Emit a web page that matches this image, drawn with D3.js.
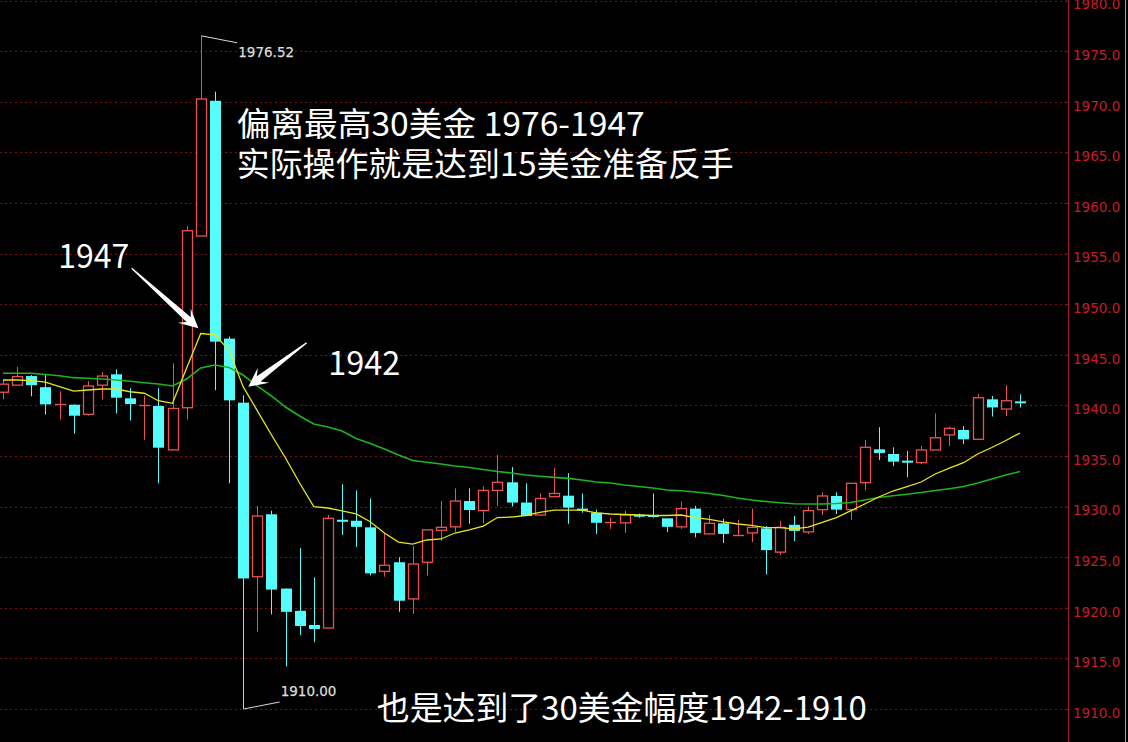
<!DOCTYPE html>
<html>
<head>
<meta charset="utf-8">
<script src="https://cdn.jsdelivr.net/npm/d3@7"></script>
<style>
  html, body { margin: 0; padding: 0; background: #000; }
  svg { display: block; }
</style>
</head>
<body>
<svg id="chart" width="1128" height="742"></svg>
<script>
// ---------------- DATA ----------------
const yTicks = [1910, 1915, 1920, 1925, 1930, 1935, 1940, 1945, 1950, 1955, 1960, 1965, 1970, 1975, 1980];

const openPrices = [1941.3,1942.0,1942.9,1941.8,1940.1,1940.07,1939.12,1942.0,1943.07,1940.7,
  1940.07,1939.94,1935.6,1939.77,1956.74,1970.1,1946.6,1940.27,1923.07,1929.24,
  1921.9,1919.7,1918.3,1918.0,1928.7,1928.6,1927.95,1923.6,1924.5,1920.88,
  1924.5,1927.66,1928.0,1930.55,1929.6,1931.6,1932.4,1930.4,1929.17,1930.98,
  1931.08,1929.8,1929.4,1928.45,1928.4,1929.2,1929.17,1928.84,1928.0,1929.8,
  1927.3,1928.35,1927.2,1927.4,1927.85,1925.5,1928.2,1927.5,1929.7,1931.05,
  1929.7,1932.36,1935.66,1935.2,1934.54,1934.34,1935.6,1937.08,1937.57,1936.65,
  1940.6,1939.64,1940.40];

const highPrices = [1942.5,1943.8,1943.0,1943.0,1941.4,1940.1,1942.4,1943.3,1943.57,1941.7,
  1940.96,1941.7,1944.16,1957.7,1976.52,1971.0,1946.8,1941.0,1930.06,1929.6,
  1921.9,1925.9,1923.0,1929.17,1932.2,1931.6,1930.8,1927.4,1925.0,1926.1,
  1927.7,1930.55,1931.8,1931.8,1932.0,1935.1,1933.9,1932.3,1931.3,1933.8,
  1933.3,1931.3,1929.7,1928.9,1929.6,1929.3,1931.3,1928.84,1930.5,1930.06,
  1929.17,1928.8,1928.7,1929.8,1928.08,1928.6,1929.07,1930.0,1931.4,1931.4,
  1932.3,1936.6,1937.84,1935.86,1935.5,1936.0,1939.2,1937.9,1937.96,1941.13,
  1940.93,1942.0,1941.1];

const lowPrices = [1940.6,1942.0,1940.9,1939.1,1938.6,1937.2,1938.98,1940.6,1939.2,1938.5,
  1936.6,1932.3,1935.6,1938.6,1956.74,1941.5,1932.3,1910.0,1917.64,1919.35,
  1914.2,1917.3,1916.6,1918.0,1927.2,1926.0,1923.2,1923.07,1919.6,1919.4,
  1923.2,1926.6,1927.5,1928.3,1928.35,1930.06,1930.0,1929.07,1929.17,1930.98,
  1928.3,1929.4,1927.3,1927.8,1927.4,1928.9,1928.9,1927.5,1927.8,1926.96,
  1927.3,1926.4,1927.2,1926.5,1923.3,1925.2,1926.6,1927.3,1929.17,1929.27,
  1928.7,1931.6,1934.6,1934.0,1932.9,1934.2,1935.6,1935.99,1936.19,1936.65,
  1938.9,1938.95,1939.8];

const closePrices = [1942.1,1942.84,1942.0,1940.1,1940.1,1938.98,1941.92,1942.9,1940.76,1940.14,
  1940.07,1935.82,1939.7,1957.26,1970.28,1946.3,1940.5,1922.9,1929.07,1921.8,
  1919.6,1918.2,1917.9,1928.84,1928.5,1928.0,1923.4,1924.2,1920.7,1924.33,
  1927.7,1927.95,1930.55,1929.66,1931.6,1932.4,1930.4,1929.07,1930.8,1931.3,
  1929.9,1929.6,1928.4,1928.45,1929.17,1929.1,1929.0,1928.0,1929.8,1927.4,
  1928.35,1927.3,1927.2,1927.95,1925.7,1927.95,1927.6,1929.6,1931.05,1929.7,
  1932.3,1935.86,1935.3,1934.44,1934.34,1935.6,1936.8,1937.74,1936.65,1940.76,
  1939.8,1940.46,1940.37];

// short moving average (yellow)
const maShort = [1942.51,1942.51,1942.44,1942.31,1941.85,1941.42,1941.52,1941.62,1941.62,1941.35,
  1941.20,1940.46,1940.21,1943.70,1947.10,1946.96,1945.47,1941.85,1939.48,1937.10,
  1934.80,1932.33,1929.99,1929.86,1929.57,1929.27,1928.51,1927.39,1926.50,1926.30,
  1926.70,1926.80,1927.39,1927.69,1928.08,1928.92,1928.97,1929.12,1929.42,1929.66,
  1929.66,1929.66,1929.37,1929.27,1929.22,1929.17,1929.12,1929.12,1929.17,1928.92,
  1928.73,1928.48,1928.28,1928.14,1927.93,1927.93,1927.79,1927.98,1928.43,1928.92,
  1929.57,1930.26,1930.95,1931.54,1931.97,1932.43,1933.22,1933.81,1934.34,1935.20,
  1935.84,1936.53,1937.27];

// long moving average (green)
const maLong = [1943.17,1943.17,1943.17,1943.05,1942.93,1942.74,1942.68,1942.61,1942.51,1942.38,
  1942.24,1942.11,1941.92,1942.61,1943.70,1943.99,1943.75,1943.00,1941.92,1940.93,
  1939.84,1938.95,1938.16,1937.87,1937.47,1936.73,1936.24,1935.69,1935.10,1934.56,
  1934.38,1934.21,1934.01,1933.86,1933.66,1933.47,1933.32,1933.12,1933.00,1932.89,
  1932.79,1932.63,1932.43,1932.33,1932.13,1931.98,1931.84,1931.64,1931.56,1931.44,
  1931.29,1931.10,1930.85,1930.65,1930.50,1930.38,1930.28,1930.26,1930.26,1930.31,
  1930.41,1930.65,1930.90,1931.07,1931.22,1931.39,1931.59,1931.77,1931.98,1932.33,
  1932.73,1933.12,1933.47];

// annotations (positions in data space: candle number, price; width = rendered text length)
const bigTextLines = [
  { text: "偏离最高30美金 1976-1947", x: 17.55, price: 1966.60, width: 408 },
  { text: "实际操作就是达到15美金准备反手", x: 17.55, price: 1962.62, width: 497 }
];
const pointLabels = [
  { text: "1947", x: 4.92, price: 1953.56, width: 71 },
  { text: "1942", x: 24.03, price: 1943.0, width: 72 },
  { text: "也是达到了30美金幅度1942-1910", x: 27.46, price: 1908.91, width: 490 }
];
const arrows = [
  { tail: [10.11, 1953.55], tip: [14.83, 1947.62] },
  { tail: [22.5, 1946.2], tip: [18.37, 1941.85] }
];
const extremeLabels = [
  { text: "1976.52", candle: 15, kind: "high" },
  { text: "1910.00", candle: 18, kind: "low" }
];

// ---------------- DRAW ----------------
const W = 1128, H = 742;
const svg = d3.select("#chart");
svg.append("rect").attr("width", W).attr("height", H).attr("fill", "#000");

const n = openPrices.length;
const x = d3.scaleLinear().domain([1, n]).range([3, 1020]);
const y = d3.scaleLinear().domain([1910, 1980]).range([709, 0.6]);
const axisX = 1068;

const RED = "#ec5050", CYAN = "#54fcfc";

// grid
svg.append("g").selectAll("line").data(yTicks).join("line")
  .attr("x1", 0).attr("x2", axisX - 2)
  .attr("y1", d => Math.round(y(d)) + 0.5).attr("y2", d => Math.round(y(d)) + 0.5)
  .attr("stroke", "#7a1216").attr("stroke-width", 1).attr("stroke-dasharray", "2,3");

// axis
const axis = d3.axisRight(y).tickValues(yTicks).tickFormat(d3.format(".1f"))
  .tickSizeInner(-3).tickSizeOuter(0).tickPadding(5);
const gAxis = svg.append("g").attr("transform", `translate(${axisX},0)`).call(axis);
gAxis.select(".domain").remove();
gAxis.selectAll(".tick line").attr("stroke", "#a01820");
gAxis.selectAll(".tick text")
  .attr("fill", "#c41c28").attr("font-family", "DejaVu Sans").attr("font-size", 13.5)
  .attr("dy", "0.62em");
svg.append("line").attr("x1", axisX + 0.5).attr("x2", axisX + 0.5).attr("y1", 0).attr("y2", H)
  .attr("stroke", "#a8141e").attr("stroke-width", 1);
svg.append("line").attr("x1", 1125.5).attr("x2", 1125.5).attr("y1", 0).attr("y2", H)
  .attr("stroke", "#d88a8a").attr("stroke-width", 1);

// candles
const candles = d3.range(n).map(i => ({
  i: i + 1, o: openPrices[i], h: highPrices[i], l: lowPrices[i], c: closePrices[i],
  up: closePrices[i] >= openPrices[i]
}));
const gC = svg.append("g");
candles.forEach(d => {
  const cx = Math.round(x(d.i));
  const top = Math.max(d.o, d.c), bot = Math.min(d.o, d.c);
  const yt = y(top), yb = y(bot), yh = y(d.h), yl = y(d.l);
  if (d.up) {
    if (yh < yt - 0.5) gC.append("line").attr("x1", cx + 0.5).attr("x2", cx + 0.5).attr("y1", yh).attr("y2", yt).attr("stroke", RED);
    if (yl > yb + 0.5) gC.append("line").attr("x1", cx + 0.5).attr("x2", cx + 0.5).attr("y1", yb).attr("y2", yl).attr("stroke", RED);
    const hgt = Math.max(yb - yt, 0);
    if (hgt < 1.5) {
      gC.append("line").attr("x1", cx - 5).attr("x2", cx + 6)
        .attr("y1", Math.round(yt) + 0.5).attr("y2", Math.round(yt) + 0.5).attr("stroke", RED).attr("stroke-width", 1.4);
    } else {
      gC.append("rect").attr("x", cx - 4.5).attr("y", yt).attr("width", 10).attr("height", hgt)
        .attr("fill", "#000").attr("stroke", RED).attr("stroke-width", 1.3);
    }
  } else {
    gC.append("line").attr("x1", cx + 0.5).attr("x2", cx + 0.5).attr("y1", yh).attr("y2", yl).attr("stroke", CYAN);
    const hgt = Math.max(yb - yt, 2);
    gC.append("rect").attr("x", cx - 5).attr("y", yt).attr("width", 11).attr("height", hgt)
      .attr("fill", CYAN);
  }
});

// moving averages
const line = d3.line().x((d, i) => x(i + 1)).y(d => y(d));
svg.append("path").datum(maLong).attr("d", line).attr("fill", "none")
  .attr("stroke", "#1eb41e").attr("stroke-width", 1.6);
svg.append("path").datum(maShort).attr("d", line).attr("fill", "none")
  .attr("stroke", "#e6e61a").attr("stroke-width", 1.3);

// extreme labels
extremeLabels.forEach(e => {
  const d = candles[e.candle - 1];
  const px = x(d.i) + 0.5;
  const py = e.kind === "high" ? y(d.h) : y(d.l);
  const ex = px + 36, ey = e.kind === "high" ? py + 7 : py - 7;
  svg.append("line").attr("x1", px).attr("y1", py).attr("x2", ex).attr("y2", ey)
    .attr("stroke", "#d8d8d8").attr("stroke-width", 1);
  svg.append("text").attr("x", ex + 1).attr("y", e.kind === "high" ? ey + 14 : ey - 6)
    .attr("fill", "#dcdcdc").attr("font-family", "DejaVu Sans").attr("font-size", 13.5)
    .attr("stroke", "#dcdcdc").attr("stroke-width", 0.25)
    .text(e.text);
});

// arrows
arrows.forEach(a => {
  const T = [x(a.tail[0]), y(a.tail[1])], P = [x(a.tip[0]), y(a.tip[1])];
  const dx = P[0] - T[0], dy = P[1] - T[1], len = Math.hypot(dx, dy);
  const u = [dx / len, dy / len], nv = [-u[1], u[0]];
  const hl = 19, hw = 9.5, sw = 3.2, notch = 13;
  const B = [P[0] - u[0] * notch, P[1] - u[1] * notch];
  const Wb = [P[0] - u[0] * hl, P[1] - u[1] * hl];
  const pts = [
    [T[0] + nv[0] * 0.6, T[1] + nv[1] * 0.6],
    [B[0] + nv[0] * sw, B[1] + nv[1] * sw],
    [Wb[0] + nv[0] * hw, Wb[1] + nv[1] * hw],
    P,
    [Wb[0] - nv[0] * hw, Wb[1] - nv[1] * hw],
    [B[0] - nv[0] * sw, B[1] - nv[1] * sw],
    [T[0] - nv[0] * 0.6, T[1] - nv[1] * 0.6]
  ];
  svg.append("polygon").attr("points", pts.map(p => p.join(",")).join(" "))
    .attr("fill", "#ffffff");
});

// texts
const cjk = "'Noto Sans CJK SC', 'Noto Sans', sans-serif";
bigTextLines.concat(pointLabels).forEach(t => {
  svg.append("text").attr("x", x(t.x)).attr("y", y(t.price))
    .attr("fill", "#ffffff").attr("font-family", cjk).attr("font-size", 33)
    .attr("textLength", t.width).attr("lengthAdjust", "spacingAndGlyphs")
    .text(t.text);
});
</script>
</body>
</html>
